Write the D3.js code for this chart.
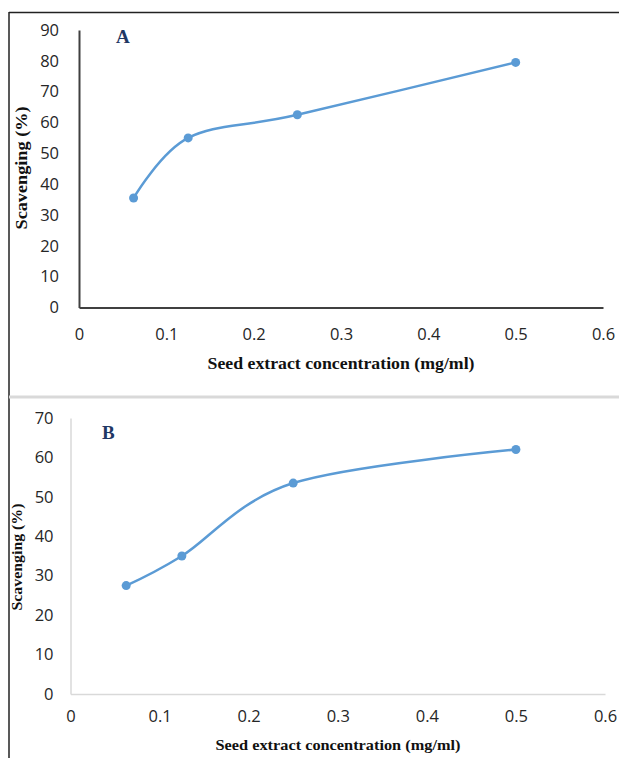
<!DOCTYPE html>
<html>
<head>
<meta charset="utf-8">
<script src="https://cdn.jsdelivr.net/npm/d3@7"></script>
<style>
  body { margin: 0; background: #fff; }
  .tick text { font-family: "Open Sans", sans-serif; font-size: 16.5px; fill: #262626; }
  .title { font-family: "Liberation Serif", serif; font-weight: bold; fill: #111; }
</style>
</head>
<body>
<div id="chart"></div>
<script>
// Data
const concentrations = [0.0625, 0.125, 0.25, 0.5];
const scavengingA = [35.5, 55, 62.5, 79.5];
const scavengingB = [27.5, 35, 53.5, 62];
const xTickValues = [0, 0.1, 0.2, 0.3, 0.4, 0.5, 0.6];
const yTicksA = [0, 10, 20, 30, 40, 50, 60, 70, 80, 90];
const yTicksB = [0, 10, 20, 30, 40, 50, 60, 70];

const W = 619, H = 758;

const svg = d3.select("#chart")
  .append("svg")
  .attr("width", W)
  .attr("height", H);

// Outer frame (top + left) and separator
svg.append("line").attr("x1", 9).attr("x2", W).attr("y1", 12.5).attr("y2", 12.5)
  .style("stroke", "#222").style("stroke-width", 1.5);
svg.append("line").attr("x1", 9).attr("x2", 9).attr("y1", 12).attr("y2", H)
  .style("stroke", "#222").style("stroke-width", 1.5);
svg.append("line").attr("x1", 9).attr("x2", W).attr("y1", 397).attr("y2", 397)
  .style("stroke", "#d9d9d9").style("stroke-width", 3);

function drawPanel(cfg) {
  const x = d3.scaleLinear().domain([0, 0.6]).range([cfg.left, cfg.right]);
  const y = d3.scaleLinear().domain([0, cfg.yMax]).range([cfg.bottom, cfg.top]);

  const g = svg.append("g");

  // Y axis
  const yAxis = g.append("g")
    .attr("transform", "translate(" + cfg.left + ",0)")
    .call(d3.axisLeft(y).tickValues(cfg.yTicks).tickSize(0).tickPadding(cfg.yPad).tickFormat(d3.format("d")));
  yAxis.select(".domain").style("stroke", cfg.axisColor).style("stroke-width", cfg.axisWidth);

  // X axis
  const xAxis = g.append("g")
    .attr("transform", "translate(0," + cfg.bottom + ")")
    .call(d3.axisBottom(x).tickValues(xTickValues).tickSize(0).tickPadding(cfg.xPad).tickFormat(d => d === 0 ? "0" : d3.format(".1f")(d)));
  xAxis.select(".domain").style("stroke", cfg.axisColor).style("stroke-width", cfg.axisWidth);

  // Smoothed line
  const pts = concentrations.map((c, i) => [c, cfg.values[i]]);
  const line = d3.line()
    .x(d => x(d[0]))
    .y(d => y(d[1]))
    .curve(d3.curveCardinal.tension(0));

  g.append("path")
    .datum(pts)
    .attr("d", line)
    .style("fill", "none")
    .style("stroke", "#5b9bd5")
    .style("stroke-width", 2.5);

  g.selectAll("circle.pt")
    .data(pts)
    .enter().append("circle")
    .attr("class", "pt")
    .attr("cx", d => x(d[0]))
    .attr("cy", d => y(d[1]))
    .attr("r", 4.5)
    .style("fill", "#5b9bd5");

  // Panel letter
  g.append("text")
    .attr("x", cfg.letterX)
    .attr("y", cfg.letterY)
    .style("font-family", "Liberation Serif, serif")
    .style("font-weight", "bold")
    .style("font-size", "19px")
    .style("fill", "#1f3864")
    .text(cfg.letter);

  // Axis titles
  g.append("text")
    .attr("class", "title")
    .attr("x", cfg.xTitleX)
    .attr("y", cfg.xTitleY)
    .attr("text-anchor", "middle")
    .attr("textLength", cfg.xTitleLen)
    .attr("lengthAdjust", "spacingAndGlyphs")
    .style("font-size", cfg.xTitleSize + "px")
    .text("Seed extract concentration (mg/ml)");

  g.append("text")
    .attr("class", "title")
    .attr("transform", "translate(" + cfg.yTitleX + "," + cfg.yTitleY + ") rotate(-90)")
    .attr("text-anchor", "middle")
    .attr("textLength", cfg.yTitleLen)
    .attr("lengthAdjust", "spacingAndGlyphs")
    .style("font-size", cfg.yTitleSize + "px")
    .text("Scavenging (%)");
}

drawPanel({
  values: scavengingA, yMax: 90, yTicks: yTicksA,
  left: 79, right: 603, top: 30, bottom: 307.5,
  yPad: 20, xPad: 21,
  axisColor: "#404040", axisWidth: 2,
  letter: "A", letterX: 116, letterY: 43,
  xTitleX: 341, xTitleY: 369, xTitleLen: 267, xTitleSize: 16,
  yTitleX: 27, yTitleY: 168, yTitleLen: 123, yTitleSize: 16
});

drawPanel({
  values: scavengingB, yMax: 70, yTicks: yTicksB,
  left: 70.5, right: 605, top: 418, bottom: 694,
  yPad: 17, xPad: 16,
  axisColor: "#d9d9d9", axisWidth: 1.5,
  letter: "B", letterX: 102, letterY: 439,
  xTitleX: 338, xTitleY: 750, xTitleLen: 245, xTitleSize: 15,
  yTitleX: 22, yTitleY: 557, yTitleLen: 107, yTitleSize: 14
});
</script>
</body>
</html>
